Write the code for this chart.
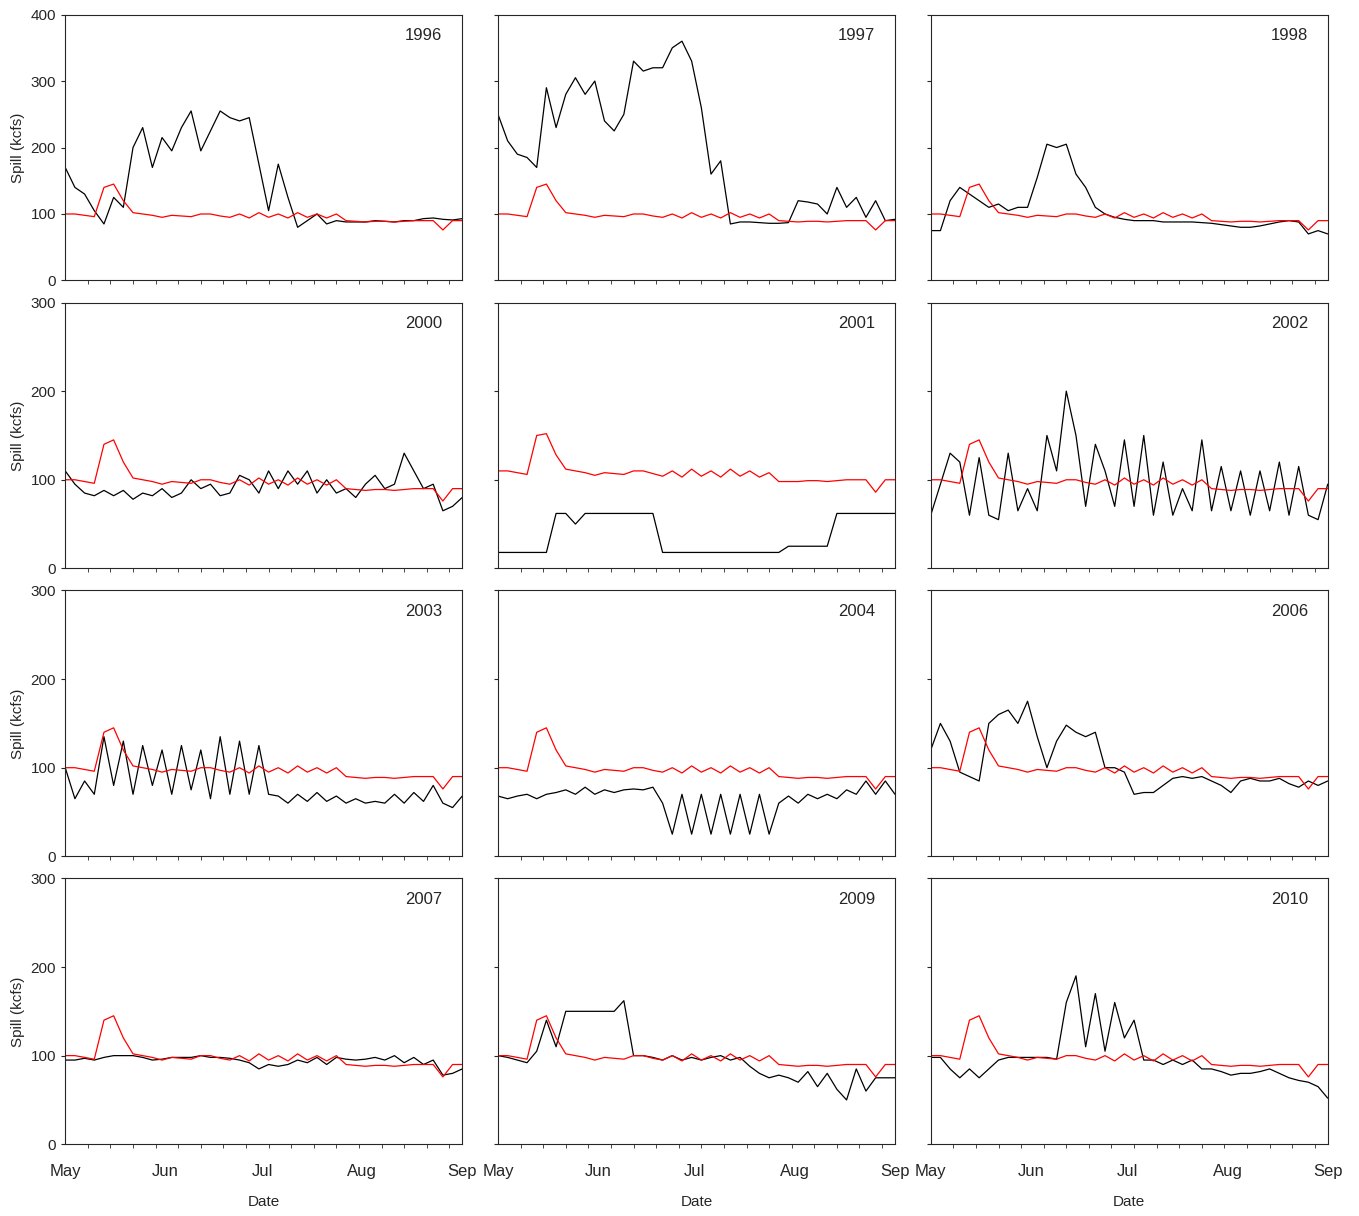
import numpy as np, pandas as pd, matplotlib
matplotlib.use("Agg")
import matplotlib.pyplot as plt, seaborn as sns

sns.set_style("ticks")
plt.rcParams['font.family'] = ['Liberation Sans', 'DejaVu Sans']

days = list(range(0, 124, 3))
month_ticks = [0, 31, 61, 92, 123]
month_labels = ["May", "Jun", "Jul", "Aug", "Sep"]
years = ["1996","1997","1998","2000","2001","2002","2003","2004","2006","2007","2009","2010"]

red = [100,100,98,96,140,145,120,102,100,98,95,98,97,96,100,100,97,95,100,94,102,95,100,94,102,95,100,94,100,90,89,88,89,89,88,89,90,90,90,76,90,90]
red_2001 = [110,110,108,106,150,152,128,112,110,108,105,108,107,106,110,110,107,104,110,103,112,104,110,103,112,104,110,103,108,98,98,98,99,99,98,99,100,100,100,86,100,100]

black = {
"1996":[170,140,130,105,85,125,110,200,230,170,215,195,230,255,195,225,255,245,240,245,175,105,175,125,80,90,100,85,90,88,88,88,90,89,88,90,90,93,94,92,91,93],
"1997":[250,210,190,185,170,290,230,280,305,280,300,240,225,250,330,315,320,320,350,360,330,260,160,180,85,88,88,87,86,86,87,120,118,115,100,140,110,125,95,120,90,92],
"1998":[75,75,120,140,130,120,110,115,105,110,110,155,205,200,205,160,140,110,100,95,92,90,90,90,88,88,88,88,87,86,84,82,80,80,82,85,88,90,88,70,75,70],
"2000":[110,95,85,82,88,82,88,78,85,82,90,80,85,100,90,95,82,85,105,100,85,110,90,110,95,110,85,100,85,90,80,95,105,90,95,130,110,90,95,65,70,80],
"2001":[18,18,18,18,18,18,62,62,50,62,62,62,62,62,62,62,62,18,18,18,18,18,18,18,18,18,18,18,18,18,25,25,25,25,25,62,62,62,62,62,62,62],
"2002":[60,95,130,120,60,125,60,55,130,65,90,65,150,110,200,150,70,140,110,70,145,70,150,60,120,60,90,65,145,65,115,65,110,60,110,65,120,60,115,60,55,95],
"2003":[100,65,85,70,135,80,130,70,125,80,120,70,125,75,120,65,135,70,130,70,125,70,68,60,70,62,72,62,68,60,65,60,62,60,70,60,72,62,80,60,55,68],
"2004":[68,65,68,70,65,70,72,75,70,78,70,75,72,75,76,75,78,60,25,70,25,70,25,70,25,70,25,70,25,60,68,60,70,65,70,65,75,70,85,70,85,70],
"2006":[120,150,130,95,90,85,150,160,165,150,175,135,100,130,148,140,135,140,100,100,95,70,72,72,80,88,90,88,90,85,80,72,85,88,85,85,88,82,78,85,80,85],
"2007":[95,95,97,95,98,100,100,100,98,95,96,98,98,98,100,98,98,97,95,92,85,90,88,90,95,92,98,90,98,96,95,96,98,95,100,92,98,90,95,78,80,85],
"2009":[100,98,95,92,105,140,110,150,150,150,150,150,150,162,100,100,98,95,100,95,98,95,98,100,95,98,88,80,75,78,75,70,82,65,80,62,50,85,60,75,75,75],
"2010":[98,98,85,75,85,75,85,95,98,98,98,98,98,96,160,190,110,170,105,160,120,140,95,95,90,95,90,95,85,85,82,78,80,80,82,85,80,75,72,70,65,52],
}

fig, axes = plt.subplots(4, 3, figsize=(13.59, 12.16), dpi=100)
fig.subplots_adjust(left=0.048, right=0.977, top=0.988, bottom=0.059, wspace=0.09, hspace=0.083)
for i, yr in enumerate(years):
    ax = axes.flat[i]
    r, c = divmod(i, 3)
    df = pd.DataFrame({"day": days, "black": black[yr], "red": red_2001 if yr == "2001" else red})
    sns.lineplot(data=df, x="day", y="black", ax=ax, color="black", lw=0.9)
    sns.lineplot(data=df, x="day", y="red", ax=ax, color="red", lw=0.9)
    ax.set_xlim(0, 123)
    top = 400 if r == 0 else 300
    ax.set_ylim(0, top)
    ax.set_yticks(range(0, top + 1, 100))
    ax.set_xticks(month_ticks)
    ax.set_xticks(range(0, 124, 7), minor=True)
    ax.tick_params(which="both", direction="out", length=3, labelsize=11)
    ax.tick_params(which="major", axis="x", length=0, pad=14)
    ax.text(0.95, 0.92, yr, transform=ax.transAxes, ha="right", va="center", fontsize=12)
    if c == 0:
        ax.set_ylabel("Spill (kcfs)", fontsize=11)
    else:
        ax.set_ylabel("")
        ax.set_yticklabels([])
    if r == 3:
        ax.set_xticklabels(month_labels, fontsize=12)
        ax.set_xlabel("Date", fontsize=11, labelpad=12)
    else:
        ax.set_xticklabels([])
        ax.set_xlabel("")
fig.savefig("out.png")
